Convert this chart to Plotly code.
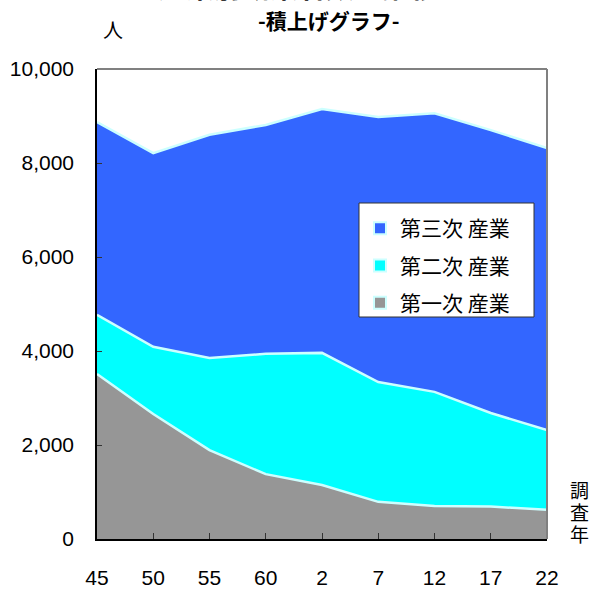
import plotly.graph_objects as go

years = ["45", "50", "55", "60", "2", "7", "12", "17", "22"]
primary = [3510, 2660, 1890, 1380, 1150, 790, 700, 690, 620]
secondary = [1260, 1430, 1960, 2560, 2810, 2550, 2430, 1990, 1700]
tertiary = [4100, 4120, 4750, 4870, 5190, 5640, 5930, 6020, 6000]
y_ticks = [0, 2000, 4000, 6000, 8000, 10000]
y_ticktext = ["0", "2,000", "4,000", "6,000", "8,000", "10,000"]

names = ["第一次 産業", "第二次 産業", "第三次 産業"]
colors = ["#969696", "#00FFFF", "#3366FF"]
series = [primary, secondary, tertiary]
x_title_chars = ["調", "査", "年"]

JP = "Noto Sans CJK JP"
NUM = "Liberation Sans"

L, T, PW, PH = 97, 69, 450, 470
W = H = 592


def px(x):
    return (x - L) / PW


def py(y):
    return (T + PH - y) / PH


fig = go.Figure()
for name, col, vals in zip(names, colors, series):
    fig.add_trace(go.Scatter(
        x=years, y=vals, stackgroup="one", mode="lines",
        line=dict(color="#CCFFFF", width=2.5),
        fillcolor=col, name=name, showlegend=False, hoverinfo="skip"))

# legend entries (small squares), top to bottom
for i, (name, col) in enumerate(zip(names[::-1], colors[::-1])):
    fig.add_trace(go.Scatter(
        x=[None], y=[None], mode="markers", name=name,
        legendgroup=f"g{i}",
        marker=dict(symbol="square", size=9, color=col,
                    line=dict(color="#CCFFFF", width=1.5))))

annotations = [
    dict(text="<b>産業別就業者数の推移</b>", xref="paper", yref="paper",
         x=px(298), y=py(-14), xanchor="center", yanchor="middle",
         showarrow=False, font=dict(family=JP, size=28, color="black")),
    dict(text="<b>-積上げグラフ-</b>", xref="paper", yref="paper",
         x=px(329), y=py(20), xanchor="center", yanchor="middle",
         showarrow=False, font=dict(family=JP, size=21, color="black")),
    dict(text="人", xref="paper", yref="paper",
         x=px(113), y=py(30), xanchor="center", yanchor="middle",
         showarrow=False, font=dict(family=JP, size=20, color="black")),
]
for ch, yy in zip(x_title_chars, [489, 511, 533]):
    annotations.append(dict(text=ch, xref="paper", yref="paper",
                            x=px(579), y=py(yy), xanchor="center", yanchor="middle",
                            height=21, borderpad=0, valign="middle",
                            showarrow=False, font=dict(family=JP, size=19, color="black")))

fig.update_layout(
    width=W, height=H,
    margin=dict(l=L, r=W - L - PW, t=T, b=H - T - PH, autoexpand=False),
    paper_bgcolor="white", plot_bgcolor="white",
    showlegend=True,
    legend=dict(x=px(360), y=py(208), xanchor="left", yanchor="top",
                bgcolor="rgba(0,0,0,0)", borderwidth=0,
                font=dict(family=JP, size=21, color="black"),
                tracegroupgap=7, traceorder="grouped",
                itemsizing="constant"),
    xaxis=dict(type="category", range=[0, 8], showgrid=False, automargin=False,
               showline=True, linecolor="black", linewidth=1.5,
               ticks="inside", ticklen=6, tickcolor="#333333",
               tickfont=dict(family=NUM, size=21, color="black"),
               ticklabelstandoff=19, zeroline=False, fixedrange=True),
    yaxis=dict(range=[0, 10000], showgrid=False, zeroline=False, automargin=False,
               showline=True, linecolor="black", linewidth=1.5,
               ticks="inside", ticklen=5, tickcolor="#333333",
               tickvals=y_ticks, ticktext=y_ticktext,
               tickfont=dict(family=NUM, size=21, color="black"),
               ticklabelstandoff=17, fixedrange=True),
    shapes=[
        dict(type="line", xref="paper", yref="paper", x0=0, x1=1, y0=1, y1=1,
             line=dict(color="#808080", width=2)),
        dict(type="line", xref="paper", yref="paper", x0=1, x1=1, y0=0, y1=1,
             line=dict(color="#808080", width=2)),
        dict(type="rect", xref="paper", yref="paper",
             x0=px(359), x1=px(534), y0=py(317), y1=py(203),
             fillcolor="white", line=dict(color="#333333", width=1), layer="above"),
    ],
    annotations=annotations,
)

fig.write_html("out.html", config={"displayModeBar": False},
               post_script="document.body.style.margin='0';")
